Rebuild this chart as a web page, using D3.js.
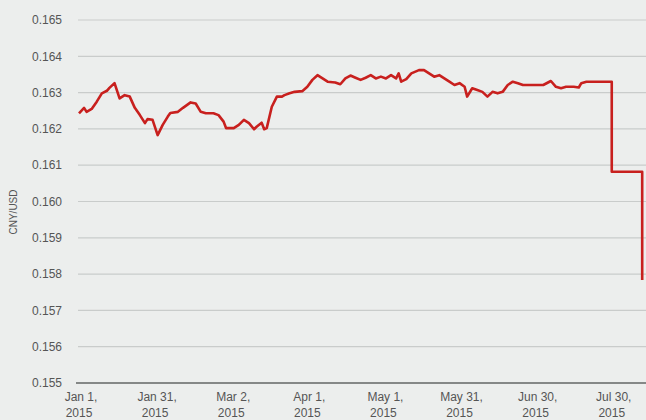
<!DOCTYPE html>
<html><head><meta charset="utf-8">
<script src="https://cdn.jsdelivr.net/npm/d3@7"></script>
<style>
html,body{margin:0;padding:0;background:#eceeed;}
svg{display:block;}
</style></head>
<body>
<svg id="chart" width="646" height="420"></svg>
<script>
// Data
const dates = ["2015-01-01","2015-01-03","2015-01-04","2015-01-06","2015-01-08","2015-01-10","2015-01-12","2015-01-13","2015-01-15","2015-01-17","2015-01-19","2015-01-21","2015-01-23","2015-01-25","2015-01-27","2015-01-28","2015-01-30","2015-02-01","2015-02-03","2015-02-05","2015-02-06","2015-02-09","2015-02-11","2015-02-14","2015-02-16","2015-02-18","2015-02-20","2015-02-23","2015-02-25","2015-02-27","2015-02-28","2015-03-03","2015-03-05","2015-03-07","2015-03-09","2015-03-11","2015-03-12","2015-03-14","2015-03-15","2015-03-16","2015-03-18","2015-03-20","2015-03-22","2015-03-23","2015-03-25","2015-03-27","2015-03-30","2015-04-01","2015-04-03","2015-04-05","2015-04-07","2015-04-09","2015-04-12","2015-04-14","2015-04-16","2015-04-18","2015-04-20","2015-04-22","2015-04-24","2015-04-26","2015-04-28","2015-04-30","2015-05-02","2015-05-04","2015-05-06","2015-05-07","2015-05-08","2015-05-10","2015-05-12","2015-05-15","2015-05-17","2015-05-19","2015-05-21","2015-05-23","2015-05-25","2015-05-27","2015-05-29","2015-05-31","2015-06-02","2015-06-03","2015-06-05","2015-06-07","2015-06-09","2015-06-11","2015-06-13","2015-06-15","2015-06-17","2015-06-19","2015-06-21","2015-06-23","2015-06-25","2015-07-03","2015-07-06","2015-07-08","2015-07-10","2015-07-12","2015-07-15","2015-07-17","2015-07-18","2015-07-20","2015-07-30","2015-07-30","2015-08-11","2015-08-11"];
const rates = [0.16243,0.16258,0.16247,0.16255,0.16275,0.16298,0.16305,0.16313,0.16326,0.16284,0.16293,0.16289,0.16258,0.16238,0.16216,0.16227,0.16225,0.16183,0.16211,0.16234,0.16244,0.16247,0.16258,0.16273,0.16270,0.16247,0.16243,0.16243,0.16238,0.16220,0.16202,0.16202,0.16211,0.16225,0.16216,0.16199,0.16206,0.16217,0.16199,0.16202,0.16261,0.16289,0.16289,0.16293,0.16298,0.16302,0.16304,0.16316,0.16335,0.16348,0.16339,0.16330,0.16328,0.16323,0.16339,0.16347,0.16341,0.16335,0.16341,0.16348,0.16339,0.16344,0.16339,0.16348,0.16339,0.16353,0.16330,0.16337,0.16353,0.16362,0.16362,0.16353,0.16344,0.16348,0.16339,0.16330,0.16321,0.16326,0.16316,0.16289,0.16312,0.16307,0.16302,0.16289,0.16302,0.16298,0.16302,0.16321,0.16330,0.16326,0.16321,0.16321,0.16332,0.16316,0.16312,0.16316,0.16316,0.16314,0.16326,0.16330,0.16330,0.16082,0.16082,0.15784];
const yTicks = [0.155,0.156,0.157,0.158,0.159,0.160,0.161,0.162,0.163,0.164,0.165];
const xTickDates = ["2015-01-01","2015-01-31","2015-03-02","2015-04-01","2015-05-01","2015-05-31","2015-06-30","2015-07-30"];
const xTickLabels = ["Jan 1,","Jan 31,","Mar 2,","Apr 1,","May 1,","May 31,","Jun 30,","Jul 30,"];
const yearLabel = "2015";
const yTitle = "CNY/USD";

const parse = d3.utcParse("%Y-%m-%d");
const data = dates.map((d,i)=>({date:parse(d), v:rates[i]}));

const svg = d3.select("#chart");
const font = "'Liberation Sans', Arial, sans-serif";

const x = d3.scaleUtc()
  .domain([parse("2015-01-01"), new Date(Date.UTC(2015,7,12,12))])
  .range([79, 646]);
const y = d3.scaleLinear().domain([0.155, 0.165]).range([383, 20]);

svg.append("rect").attr("width",646).attr("height",420).attr("fill","#eceeed");

// gridlines
svg.append("g").selectAll("line").data(yTicks.slice(1)).join("line")
  .attr("x1",78).attr("x2",646)
  .attr("y1",d=>y(d)).attr("y2",d=>y(d))
  .attr("stroke","#c9cccb").attr("stroke-width",1.2);

// y tick labels
svg.append("g").selectAll("text").data(yTicks).join("text")
  .attr("x",62).attr("y",d=>y(d)).attr("dy","0.35em")
  .attr("text-anchor","end")
  .attr("font-family",font).attr("font-size",12).attr("fill","#555")
  .text(d=>d3.format(".3f")(d));

// bottom axis line
svg.append("line").attr("x1",76).attr("x2",646)
  .attr("y1",y(0.155)).attr("y2",y(0.155))
  .attr("stroke","#858887").attr("stroke-width",2.2);

// x tick labels
const xt = svg.append("g").selectAll("text").data(xTickDates).join("text")
  .attr("x",d=>x(parse(d))).attr("y",401)
  .attr("text-anchor","middle")
  .attr("font-family",font).attr("font-size",12).attr("fill","#555");
xt.append("tspan").attr("x",d=>x(parse(d))+2).text((d,i)=>xTickLabels[i]);
xt.append("tspan").attr("x",d=>x(parse(d))).attr("dy",16).text(yearLabel);

// y title
svg.append("text")
  .attr("transform","translate(17,212) rotate(-90)")
  .attr("text-anchor","middle")
  .attr("font-family",font).attr("font-size",10).attr("fill","#555")
  .text(yTitle);

// line
const line = d3.line().x(d=>x(d.date)).y(d=>y(d.v));
svg.append("path").datum(data)
  .attr("d",line).attr("fill","none")
  .attr("stroke","#c8201e").attr("stroke-width",2.6)
  .attr("stroke-linejoin","round");
</script>
</body></html>
